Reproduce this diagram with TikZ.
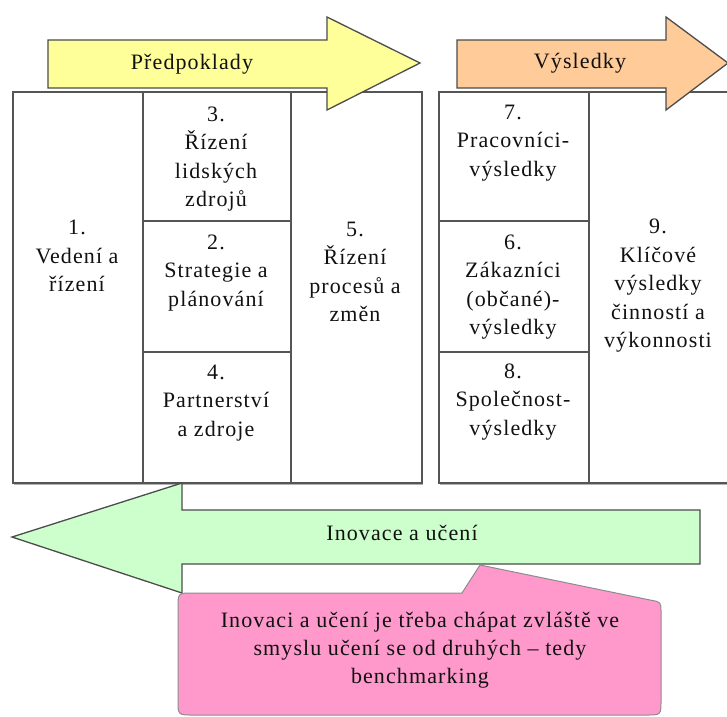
\documentclass[tikz,border=0pt]{standalone}
\usepackage{fontspec}
\setmainfont{Liberation Serif}[LetterSpace=5]
\definecolor{yel}{HTML}{FFFF99}
\definecolor{ora}{HTML}{FFCC99}
\definecolor{grn}{HTML}{CCFFCC}
\definecolor{pnk}{HTML}{FF99CC}
\definecolor{edge}{HTML}{555555}
\definecolor{ink}{HTML}{111111}
\begin{document}
\begin{tikzpicture}[x=1pt,y=-1pt,
  cell/.style={draw=edge, line width=1.6pt, fill=white, inner sep=0pt, anchor=north west},
  lbl/.style={align=center, text=ink, font=\fontsize{22}{28.5}\selectfont, inner sep=0pt},
  shp/.style={draw=black!70, line width=1.3pt, line join=miter}]
\useasboundingbox[fill=white] (0,0) rectangle (727,716);
% shadows of the grids
\fill[black!30] (14,94) rectangle (423,485);
\fill[black!30] (440,94) rectangle (740,485);
% left grid
\node[cell, minimum width=130pt, minimum height=391pt] (c1) at (12,91) {};
\node[cell, minimum width=148pt, minimum height=129pt] (c3) at (142,91) {};
\node[cell, minimum width=148pt, minimum height=131pt] (c2) at (142,220) {};
\node[cell, minimum width=148pt, minimum height=131pt] (c4) at (142,351) {};
\node[cell, minimum width=131pt, minimum height=391pt] (c5) at (290,91) {};
% right grid
\node[cell, minimum width=150pt, minimum height=129pt] (c7) at (438,91) {};
\node[cell, minimum width=150pt, minimum height=131pt] (c6) at (438,220) {};
\node[cell, minimum width=150pt, minimum height=131pt] (c8) at (438,351) {};
\node[cell, minimum width=152pt, minimum height=391pt] (c9) at (588,91) {};
% arrows
\draw[shp, fill=yel] (48,40) -- (327,40) -- (327,17) -- (420,63) -- (327,110) -- (327,88) -- (48,88) -- cycle;
\draw[shp, fill=ora] (457,40) -- (666,40) -- (666,17) -- (728,63) -- (666,110) -- (666,88) -- (457,88) -- cycle;
\draw[shp, fill=grn] (700,510) -- (182,510) -- (182,483) -- (12,537) -- (182,593) -- (182,564) -- (700,564) -- cycle;
% callout
\draw[draw=black!45, line width=1pt, fill=pnk] (193,593) -- (462,593) -- (480,565) -- (650,600)
  .. controls (661,602) .. (661,612) -- (661,700) .. controls (661,715) .. (646,715) -- (193,715)
  .. controls (178,715) .. (178,700) -- (178,608) .. controls (178,593) .. (193,593) -- cycle;
% labels
\node[lbl] (tpred) at (192,64) {Předpoklady};
\node[lbl] (tvys) at (580,63) {Výsledky};
\node[lbl] (tinov) at (402,533) {Inovace a učení};
\node[lbl] (t1) at (77,256) {1.\\Vedení a\\řízení};
\node[lbl] (t3) at (216,159) {3.\\Řízení\\lidských\\zdrojů};
\node[lbl] (t2) at (216,273) {2.\\Strategie a\\plánování};
\node[lbl] (t4) at (216,403) {4.\\Partnerství\\a zdroje};
\node[lbl] (t5) at (355,272) {5.\\Řízení\\procesů a\\změn};
\node[lbl] (t7) at (513,143) {7.\\Pracovníci-\\výsledky};
\node[lbl] (t6) at (513,287) {6.\\Zákazníci\\(občané)-\\výsledky};
\node[lbl] (t8) at (513,402) {8.\\Společnost-\\výsledky};
\node[lbl] (t9) at (658,286) {9.\\Klíčové\\výsledky\\činností a\\výkonnosti};
\node[lbl, font=\fontsize{22}{28}\selectfont] (tcall) at (420,650) {Inovaci a učení je třeba chápat zvláště ve\\smyslu učení se od druhých – tedy\\benchmarking};
\end{tikzpicture}
\end{document}
